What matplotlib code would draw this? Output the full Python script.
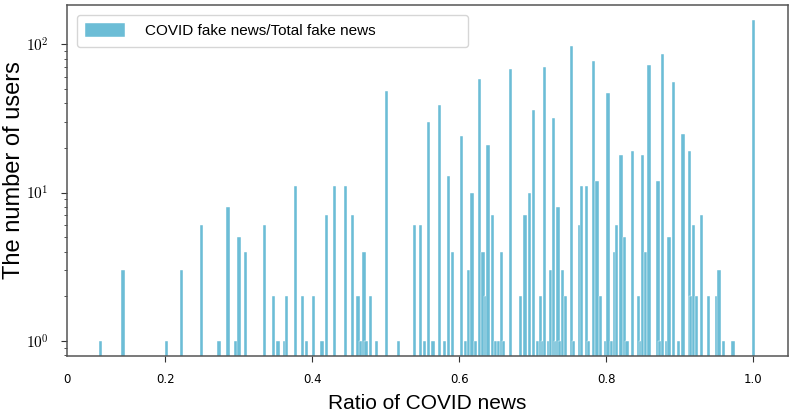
import math

import matplotlib
matplotlib.use("Agg")
import matplotlib.pyplot as plt
from matplotlib.ticker import FuncFormatter, LogLocator, NullFormatter

# ratio of COVID fake news to total fake news (bin centres) and user counts
ratio = [0.112, 0.142, 0.201, 0.222, 0.249, 0.273, 0.285, 0.296, 0.300, 0.309,
         0.335, 0.347, 0.353, 0.362, 0.365, 0.377, 0.386, 0.392, 0.401, 0.413,
         0.419, 0.430, 0.445, 0.454, 0.462, 0.466, 0.470, 0.473, 0.479, 0.487,
         0.501, 0.517, 0.539, 0.547, 0.552, 0.558, 0.564, 0.573, 0.580, 0.585,
         0.591, 0.603, 0.608, 0.612, 0.617, 0.622, 0.627, 0.632, 0.635, 0.639,
         0.645, 0.649, 0.653, 0.657, 0.660, 0.669, 0.683, 0.689, 0.695, 0.701,
         0.706, 0.710, 0.713, 0.716, 0.721, 0.724, 0.728, 0.731, 0.734, 0.737,
         0.740, 0.744, 0.752, 0.755, 0.764, 0.766, 0.773, 0.776, 0.782, 0.787,
         0.792, 0.799, 0.802, 0.807, 0.811, 0.814, 0.820, 0.825, 0.828, 0.835,
         0.844, 0.847, 0.849, 0.853, 0.858, 0.870, 0.873, 0.876, 0.882, 0.885,
         0.891, 0.898, 0.904, 0.913, 0.915, 0.918, 0.923, 0.929, 0.939, 0.950,
         0.953, 0.959, 0.972, 1.000]
users = [1, 3, 1, 3, 6, 1, 8, 1, 5, 4,
         6, 2, 1, 1, 2, 11, 2, 1, 2, 1,
         7, 11, 11, 7, 2, 1, 4, 1, 2, 1,
         48, 1, 6, 6, 1, 30, 1, 39, 1, 13,
         4, 24, 1, 3, 10, 1, 58, 4, 2, 21,
         7, 1, 1, 4, 1, 68, 2, 7, 10, 36,
         1, 2, 1, 70, 1, 3, 32, 1, 8, 1,
         3, 2, 97, 1, 6, 11, 11, 1, 77, 12,
         2, 1, 47, 1, 4, 6, 18, 5, 1, 19,
         2, 1, 18, 4, 72, 12, 1, 86, 1, 5,
         56, 1, 25, 19, 2, 6, 2, 7, 2, 2,
         3, 1, 1, 146]

xtick_values = [0.066, 0.2, 0.4, 0.6, 0.8, 1.0]
xtick_labels = ["0", "0.2", "0.4", "0.6", "0.8", "1.0"]

plt.rcParams["mathtext.fontset"] = "cm"

fig = plt.figure(figsize=(7.94, 4.13), dpi=100)
ax = fig.add_axes([0.0844, 0.138, 0.908, 0.850])

ax.bar(ratio, users, width=0.0045, color="#6cbdd6", edgecolor="white", linewidth=0.3,
       label="COVID fake news/Total fake news")

ax.set_yscale("log")
ax.set_xlim(0.066, 1.047)
ax.set_ylim(0.79, 184)

ax.set_xticks(xtick_values)
ax.set_xticklabels(xtick_labels)
ax.xaxis.get_major_ticks()[0].tick1line.set_visible(False)
ax.tick_params(axis="x", labelsize=8.5, length=4, pad=8, color="#333333")

ax.yaxis.set_major_locator(LogLocator(base=10))
ax.yaxis.set_major_formatter(FuncFormatter(lambda v, p: r"$10^{%d}$" % round(math.log10(v))))
ax.yaxis.set_minor_formatter(NullFormatter())
ax.tick_params(axis="y", which="major", labelsize=11, length=4, pad=9, color="#333333")
ax.tick_params(axis="y", which="minor", length=2.5, color="#333333")

for side in ["left", "bottom", "top", "right"]:
    ax.spines[side].set_color("#555555")
    ax.spines[side].set_linewidth(1.1)

ax.set_xlabel("Ratio of COVID news", fontsize=15, family="Liberation Sans", labelpad=6)
ax.set_ylabel("The number of users", fontsize=17, family="Liberation Sans")
ax.yaxis.set_label_coords(-0.058, 0.53)

ax.legend(loc="upper left", bbox_to_anchor=(0.0139, 0.8775, 0.5418, 0.094), mode="expand",
          borderaxespad=0, prop={"family": "Liberation Sans", "size": 11},
          handlelength=2.6, handleheight=0.95, handletextpad=1.3, borderpad=0.55)

fig.savefig("out.png", dpi=100)
